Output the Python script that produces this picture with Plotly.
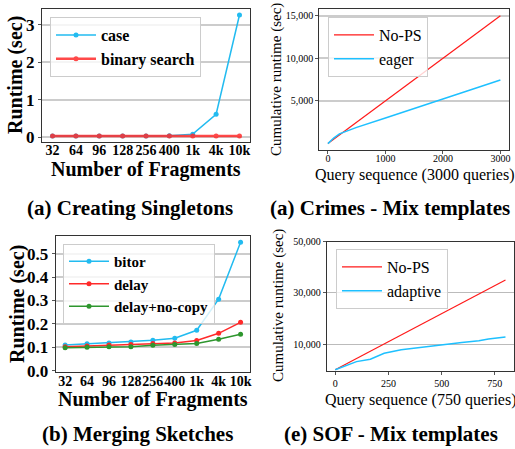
import plotly.graph_objects as go

# ---------------- data ----------------
frags = ['32', '64', '96', '128', '256', '400', '1k', '4k', '10k']
case_rt = [0.03, 0.03, 0.03, 0.03, 0.03, 0.035, 0.08, 0.61, 3.26]
binary_rt = [0.03, 0.03, 0.03, 0.03, 0.03, 0.03, 0.03, 0.03, 0.03]

bitor_rt = [0.110, 0.115, 0.119, 0.123, 0.130, 0.139, 0.173, 0.306, 0.549]
delay_rt = [0.103, 0.106, 0.110, 0.112, 0.117, 0.119, 0.129, 0.160, 0.207]
nocopy_rt = [0.098, 0.100, 0.103, 0.103, 0.109, 0.112, 0.117, 0.135, 0.156]

crimes_q = [0, 100, 200, 500, 1000, 1500, 2000, 2500, 3000]
crimes_nops = [0, 500, 1000, 2500, 5000, 7500, 10000, 12500, 15000]
crimes_eager = [0, 650, 1150, 1900, 3000, 4100, 5200, 6300, 7450]

sof_q_nops = [0, 200, 400, 600, 800]
sof_nops = [0, 8750, 17500, 26250, 35000]
sof_q = [0, 100, 165, 230, 310, 435, 500, 595, 675, 720, 800]
sof_adaptive = [0, 3150, 4100, 6400, 7750, 9050, 9850, 10650, 11300, 11950, 12750]

W, H = 515, 449
SERIF = "Liberation Serif"
BLUE = "#22bbf0"
RED = "#ff2a2a"
GREEN = "#2e962e"


def px(x0, x1):
    return [x0 / W, x1 / W]


def py(y0, y1):
    return [1 - y1 / H, 1 - y0 / H]


fig = go.Figure()

# panel (a) left
fig.add_trace(go.Scatter(x=frags, y=case_rt, name='case', mode='lines+markers',
                         line=dict(color=BLUE, width=1.5), marker=dict(size=5, color=BLUE),
                         xaxis='x', yaxis='y', legend='legend'))
fig.add_trace(go.Scatter(x=frags, y=binary_rt, name='binary search', mode='lines+markers',
                         line=dict(color=RED, width=2.5), marker=dict(size=5, color=RED),
                         opacity=0.85, xaxis='x', yaxis='y', legend='legend'))

# panel crimes
fig.add_trace(go.Scatter(x=crimes_q, y=crimes_nops, name='No-PS', mode='lines',
                         line=dict(color='#ff1a1a', width=1.2),
                         xaxis='x2', yaxis='y2', legend='legend2'))
fig.add_trace(go.Scatter(x=crimes_q, y=crimes_eager, name='eager', mode='lines',
                         line=dict(color='#1ec0ff', width=1.5),
                         xaxis='x2', yaxis='y2', legend='legend2'))

# panel (b)
fig.add_trace(go.Scatter(x=frags, y=bitor_rt, name='bitor', mode='lines+markers',
                         line=dict(color=BLUE, width=1.5), marker=dict(size=5, color=BLUE),
                         xaxis='x3', yaxis='y3', legend='legend3'))
fig.add_trace(go.Scatter(x=frags, y=delay_rt, name='delay', mode='lines+markers',
                         line=dict(color=RED, width=1.5), marker=dict(size=5, color=RED),
                         xaxis='x3', yaxis='y3', legend='legend3'))
fig.add_trace(go.Scatter(x=frags, y=nocopy_rt, name='delay+no-copy', mode='lines+markers',
                         line=dict(color=GREEN, width=1.5), marker=dict(size=5, color=GREEN),
                         xaxis='x3', yaxis='y3', legend='legend3'))

# panel SOF
fig.add_trace(go.Scatter(x=sof_q_nops, y=sof_nops, name='No-PS', mode='lines',
                         line=dict(color='#ff1a1a', width=1.2),
                         xaxis='x4', yaxis='y4', legend='legend4'))
fig.add_trace(go.Scatter(x=sof_q, y=sof_adaptive, name='adaptive', mode='lines',
                         line=dict(color='#1ec0ff', width=1.5),
                         xaxis='x4', yaxis='y4', legend='legend4'))

bold_tick_x = dict(family=SERIF, size=14, color='black', weight='bold')
bold_tick_y = dict(family=SERIF, size=17, color='black', weight='bold')
bold_title = dict(family=SERIF, size=20, color='black', weight='bold')
reg_tick = dict(family=SERIF, size=10, color='black')
reg_xtitle = dict(family=SERIF, size=16, color='black')
reg_ytitle = dict(family=SERIF, size=15, color='black')

axis_common = dict(showline=True, mirror=True, linecolor='#333', linewidth=1,
                   tickcolor='#555', zeroline=False, automargin=False)

fig.update_layout(
    width=W, height=H, margin=dict(l=0, r=0, t=0, b=0),
    paper_bgcolor='white', plot_bgcolor='white', showlegend=True,
    xaxis=dict(domain=px(42, 250), type='category', range=[-0.45, 8.45],
               tickfont=bold_tick_x, showgrid=False, tickangle=0, ticks='',
               ticklabelstandoff=-5, anchor='y', **axis_common),
    yaxis=dict(domain=py(9, 142), range=[-0.13, 3.42], tickvals=[0, 1, 2, 3],
               tickfont=bold_tick_y, showgrid=True, gridcolor='#cccccc', gridwidth=1.5,
               ticks='outside', ticklen=3, anchor='x', **axis_common),
    xaxis2=dict(domain=px(319.3, 509), range=[-150, 3150], tickvals=[0, 1000, 2000, 3000],
                tickfont=reg_tick, showgrid=False, tickangle=0, ticks='outside', ticklen=3,
                ticklabelstandoff=-4, anchor='y2', **axis_common),
    yaxis2=dict(domain=py(9.3, 150), range=[-750, 15750], tickvals=[5000, 10000, 15000],
                tickformat=',', tickfont=reg_tick, showgrid=True, gridcolor='#cccccc', gridwidth=1.5,
                ticks='outside', ticklen=3, anchor='x2', **axis_common),
    xaxis3=dict(domain=px(55.7, 250), type='category', range=[-0.43, 8.43],
                tickfont=bold_tick_x, showgrid=False, tickangle=0, ticks='',
                ticklabelstandoff=-4, anchor='y3', **axis_common),
    yaxis3=dict(domain=py(235.7, 371.7), range=[-0.004, 0.577],
                tickvals=[0, 0.1, 0.2, 0.3, 0.4, 0.5], tickformat='.1f',
                tickfont=bold_tick_y, showgrid=True, gridcolor='#cccccc', gridwidth=1.5,
                ticks='outside', ticklen=3, anchor='x3', **axis_common),
    xaxis4=dict(domain=px(326.7, 514), range=[-40, 840], tickvals=[0, 250, 500, 750],
                tickfont=reg_tick, showgrid=False, tickangle=0, ticks='outside', ticklen=3,
                anchor='y4', **axis_common),
    yaxis4=dict(domain=py(241.7, 370.7), range=[-400, 50000], tickvals=[10000, 30000, 50000],
                tickformat=',', tickfont=reg_tick, showgrid=True, gridcolor='#bbbbbb', gridwidth=1.2,
                ticks='outside', ticklen=3, anchor='x4', **axis_common),
    legend=dict(x=50 / W, y=1 - 17 / H, xanchor='left', yanchor='top', itemwidth=40,
                bgcolor='rgba(255,255,255,0.8)', bordercolor='#cccccc', borderwidth=1,
                font=dict(family=SERIF, size=16, color='black', weight='bold')),
    legend2=dict(x=328 / W, y=1 - 17 / H, xanchor='left', yanchor='top', itemwidth=40,
                 bgcolor='rgba(255,255,255,0.8)', bordercolor='#cccccc', borderwidth=1,
                 font=dict(family=SERIF, size=16, color='black')),
    legend3=dict(x=63 / W, y=1 - 244 / H, xanchor='left', yanchor='top', itemwidth=40,
                 bgcolor='rgba(255,255,255,0.8)', bordercolor='#cccccc', borderwidth=1,
                 font=dict(family=SERIF, size=15, color='black', weight='bold')),
    legend4=dict(x=336 / W, y=1 - 249 / H, xanchor='left', yanchor='top', itemwidth=40,
                 bgcolor='rgba(255,255,255,0.8)', bordercolor='#cccccc', borderwidth=1,
                 font=dict(family=SERIF, size=16, color='black')),
)


def label(text, cx, cy, font, angle=0):
    fig.add_annotation(text=text, x=cx / W, y=1 - cy / H, xref='paper', yref='paper',
                       xanchor='center', yanchor='middle', showarrow=False, font=font,
                       textangle=angle)


# axis titles
label('Number of Fragments', 146, 170, bold_title)
label('Runtime (sec)', 15, 75, bold_title, -90)
label('Query sequence (3000 queries)', 414, 175, reg_xtitle)
label('Cumulative runtime (sec)', 277, 80, reg_ytitle, -90)
label('Number of Fragments', 153, 399, bold_title)
label('Runtime (sec)', 17, 304, bold_title, -90)
label('Query sequence (750 queries)', 420, 400, reg_xtitle)
label('Cumulative runtime (sec)', 278, 306, reg_ytitle, -90)

# captions
cap_font = dict(family=SERIF, size=21, color='black', weight='bold')
label('(a) Creating Singletons', 130, 208, cap_font)
label('(a) Crimes - Mix templates', 390, 208, cap_font)
label('(b) Merging Sketches', 137, 434, cap_font)
label('(e) SOF - Mix templates', 391, 434, cap_font)

fig.write_html("out.html", config={'displayModeBar': False},
               post_script="document.body.style.margin='0';document.body.style.overflow='hidden';")
